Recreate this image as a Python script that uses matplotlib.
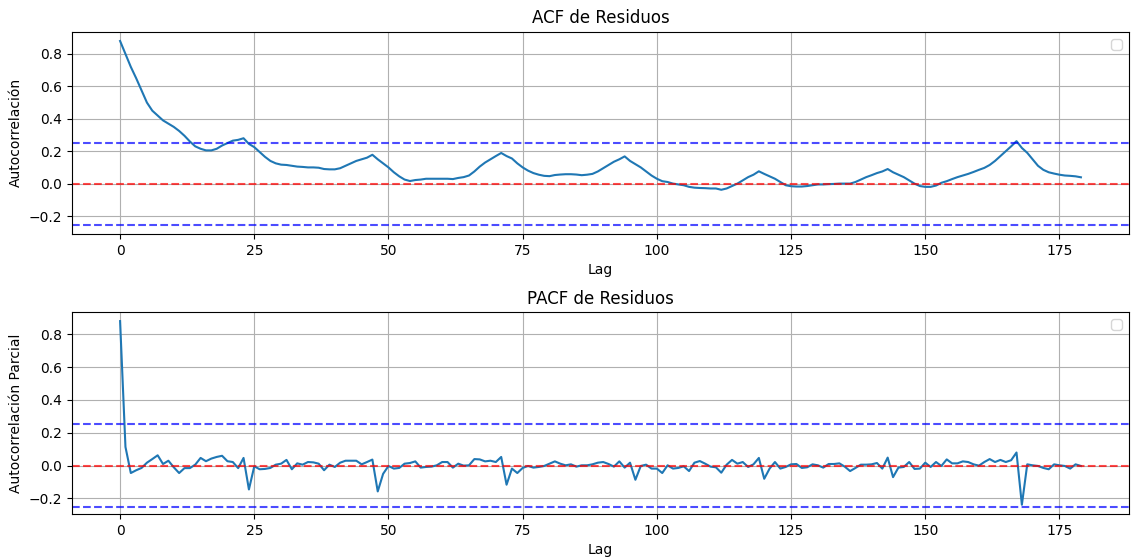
import numpy as np
import matplotlib.pyplot as plt

# valores de autocorrelacion (lags 0..179)
acf_vals = [
    0.88, 0.80, 0.72, 0.65, 0.575, 0.50, 0.45, 0.42, 0.39, 0.37,
    0.35, 0.325, 0.295, 0.26, 0.23, 0.215, 0.205, 0.205, 0.215, 0.235,
    0.25, 0.265, 0.27, 0.28, 0.245, 0.225, 0.195, 0.165, 0.14, 0.125,
    0.117, 0.115, 0.11, 0.105, 0.103, 0.10, 0.10, 0.098, 0.09, 0.088,
    0.088, 0.095, 0.11, 0.125, 0.14, 0.15, 0.16, 0.178, 0.15, 0.125,
    0.10, 0.07, 0.045, 0.025, 0.016, 0.022, 0.025, 0.03, 0.03, 0.03,
    0.03, 0.03, 0.028, 0.035, 0.04, 0.05, 0.075, 0.105, 0.13, 0.15,
    0.17, 0.189, 0.17, 0.155, 0.125, 0.10, 0.08, 0.065, 0.055, 0.048,
    0.046, 0.053, 0.056, 0.058, 0.058, 0.056, 0.052, 0.055, 0.06, 0.075,
    0.095, 0.115, 0.135, 0.15, 0.168, 0.14, 0.12, 0.10, 0.075, 0.05,
    0.03, 0.015, 0.01, 0.0, -0.005, -0.01, -0.02, -0.025, -0.027, -0.028,
    -0.03, -0.03, -0.038, -0.03, -0.015, 0.0, 0.02, 0.04, 0.055, 0.076,
    0.06, 0.045, 0.03, 0.01, -0.01, -0.016, -0.018, -0.018, -0.015, -0.01,
    -0.005, -0.005, -0.003, -0.002, 0.0, 0.0, 0.0, 0.01, 0.025, 0.04,
    0.052, 0.065, 0.075, 0.09, 0.07, 0.055, 0.04, 0.02, 0.0, -0.015,
    -0.02, -0.02, -0.012, 0.005, 0.015, 0.028, 0.04, 0.05, 0.06, 0.072,
    0.085, 0.097, 0.115, 0.14, 0.17, 0.20, 0.23, 0.262, 0.22, 0.19,
    0.15, 0.11, 0.085, 0.07, 0.062, 0.055, 0.05, 0.048, 0.045, 0.039,
]

pacf_vals = [
    0.88, 0.114, -0.045, -0.028, -0.014, 0.018, 0.04, 0.063, 0.01, 0.03,
    -0.01, -0.045, -0.015, -0.015, 0.006, 0.047, 0.027, 0.043, 0.053, 0.06,
    0.027, 0.022, -0.015, 0.047, -0.145, -0.004, -0.022, -0.02, -0.014, 0.006,
    0.012, 0.035, -0.022, 0.014, 0.006, 0.022, 0.02, 0.012, -0.028, 0.006,
    -0.008, 0.018, 0.03, 0.03, 0.03, 0.008, 0.022, 0.037, -0.157, -0.05,
    -0.002, -0.018, -0.014, 0.012, 0.016, 0.026, -0.012, -0.008, -0.006, 0.002,
    0.022, 0.022, -0.012, 0.012, 0.0, 0.002, 0.04, 0.038, 0.026, 0.03,
    0.022, 0.053, -0.116, -0.018, -0.045, -0.014, -0.002, -0.012, -0.008, -0.002,
    0.012, 0.026, 0.012, 0.002, 0.008, -0.006, 0.002, 0.002, 0.008, 0.018,
    0.022, 0.01, -0.006, 0.026, -0.012, 0.018, -0.086, -0.002, 0.006, -0.018,
    -0.018, -0.045, 0.002, -0.018, -0.014, -0.004, -0.033, 0.018, 0.028, 0.012,
    -0.006, -0.01, -0.043, 0.006, 0.035, 0.012, 0.022, -0.008, 0.008, 0.047,
    -0.08, -0.018, 0.022, -0.018, -0.008, 0.008, 0.01, -0.014, -0.01, 0.008,
    0.002, -0.012, 0.01, 0.01, 0.014, -0.006, -0.033, -0.014, 0.006, 0.006,
    0.008, 0.016, -0.018, 0.049, -0.07, -0.012, -0.008, 0.022, -0.02, -0.018,
    0.018, -0.008, 0.022, -0.002, 0.038, 0.014, 0.014, 0.026, 0.022, 0.008,
    0.0, 0.022, 0.04, 0.022, 0.035, 0.022, 0.033, 0.08, -0.238, 0.008,
    0.002, -0.002, -0.014, -0.022, 0.008, 0.002, -0.002, -0.018, 0.008, -0.002,
]

lags = np.arange(len(acf_vals))
conf = 0.253  # banda de confianza aprox. 1.96/sqrt(n)

fig = plt.figure(figsize=(11.31, 5.58), dpi=100)
ax1 = fig.add_axes([0.0637, 0.581, 0.9345, 0.362])
ax2 = fig.add_axes([0.0637, 0.079, 0.9345, 0.362])

paneles = [
    (ax1, acf_vals, 'ACF de Residuos', 'Autocorrelación'),
    (ax2, pacf_vals, 'PACF de Residuos', 'Autocorrelación Parcial'),
]

for ax, vals, titulo, ylab in paneles:
    ax.plot(lags, vals)
    ax.axhline(0, color='red', linestyle='--', alpha=0.7)
    ax.axhline(conf, color='blue', linestyle='--', alpha=0.7)
    ax.axhline(-conf, color='blue', linestyle='--', alpha=0.7)
    ax.set_title(titulo)
    ax.set_xlabel('Lag')
    ax.set_ylabel(ylab)
    ax.grid(True)
    ax.legend(loc='upper right')

fig.savefig('out.png', dpi=100)
